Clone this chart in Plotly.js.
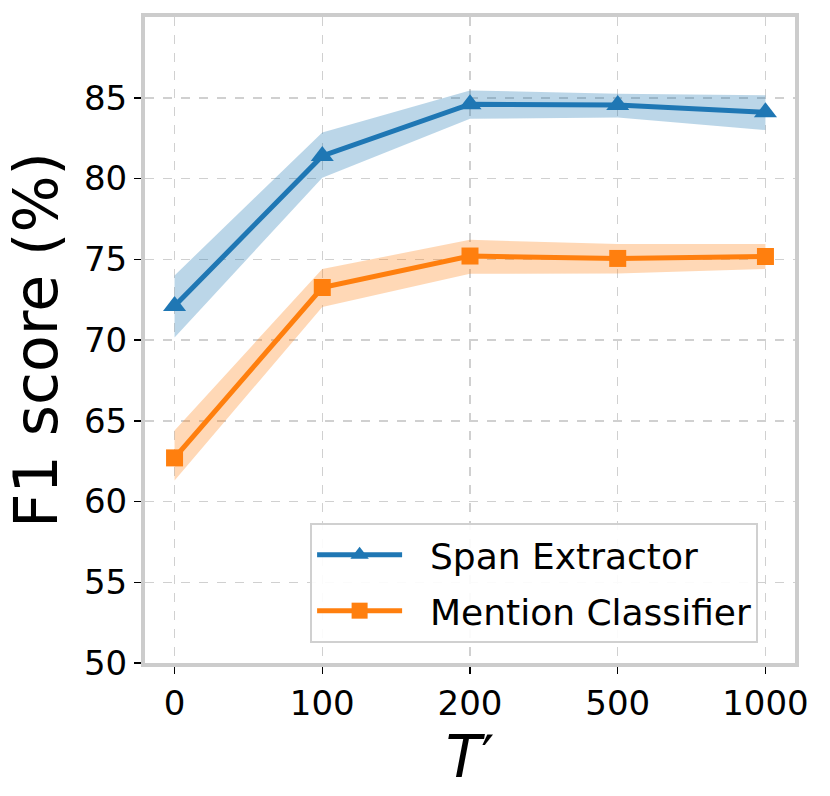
<!DOCTYPE html>
<html>
<head>
<meta charset="utf-8">
<script src="https://cdn.plot.ly/plotly-3.0.1.min.js"></script>
<style>html,body{margin:0;padding:0;background:#fff;}#chart{width:830px;height:796px;}</style>
</head>
<body>
<div id="chart"></div>
<script>
const categories = ["0", "100", "200", "500", "1000"];
const spanMean = [72.1, 81.4, 84.6, 84.55, 84.1];
const spanLow  = [70.15, 80.05, 83.7, 83.77, 83.0];
const spanHigh = [74.0, 82.85, 85.45, 85.25, 85.15];
const mentionMean = [62.7, 73.25, 75.2, 75.05, 75.17];
const mentionLow  = [61.3, 72.05, 74.1, 74.12, 74.4];
const mentionHigh = [64.4, 74.4, 76.2, 75.95, 75.95];
const yTicks = [50, 55, 60, 65, 70, 75, 80, 85];
const seriesNames = ["Span Extractor", "Mention Classifier"];

const blue = "#1f77b4", orange = "#ff7f0e";
const FONT = "DejaVu Sans, sans-serif";
const pad = "\u00a0\u00a0";

const traces = [
  {x: categories, y: spanLow, mode: "lines", line: {width: 0, color: blue}, showlegend: false, hoverinfo: "skip", legendgroup: "a"},
  {x: categories, y: spanHigh, mode: "lines", line: {width: 0, color: blue}, fill: "tonexty", fillcolor: "rgba(31,119,180,0.3)", showlegend: false, hoverinfo: "skip", legendgroup: "a"},
  {x: categories, y: mentionLow, mode: "lines", line: {width: 0, color: orange}, showlegend: false, hoverinfo: "skip", legendgroup: "b"},
  {x: categories, y: mentionHigh, mode: "lines", line: {width: 0, color: orange}, fill: "tonexty", fillcolor: "rgba(255,127,14,0.3)", showlegend: false, hoverinfo: "skip", legendgroup: "b"},
  {x: categories, y: spanMean, name: pad + seriesNames[0], legendgroup: "a", mode: "lines+markers", line: {width: 5, color: blue}, marker: {symbol: "triangle-up", size: 20, color: blue}},
  {x: categories, y: mentionMean, name: pad + seriesNames[1], legendgroup: "b", mode: "lines+markers", line: {width: 5, color: orange}, marker: {symbol: "square", size: 17, color: orange}}
];

const layout = {
  width: 830, height: 796,
  margin: {l: 145, r: 35, t: 17, b: 133},
  paper_bgcolor: "#fff", plot_bgcolor: "#fff",
  font: {family: FONT, color: "#000"},
  xaxis: {
    type: "category", range: [-0.2, 4.2],
    showgrid: true, gridcolor: "#d0d0d0", griddash: "dash", gridwidth: 1.5,
    ticks: "outside", ticklen: 7, tickwidth: 1.5, tickcolor: "#000",
    tickfont: {size: 34, family: FONT},
    showline: true, mirror: true, linecolor: "#cccccc", linewidth: 4,
    zeroline: false,
    title: {text: "<i>T</i>′", font: {size: 58, family: FONT}, standoff: 2}
  },
  yaxis: {
    range: [50, 90], tickvals: yTicks,
    showgrid: true, gridcolor: "#d0d0d0", griddash: "dash", gridwidth: 1.5,
    ticks: "outside", ticklen: 7, tickwidth: 1.5, tickcolor: "#000",
    tickfont: {size: 34, family: FONT},
    showline: true, mirror: true, linecolor: "#cccccc", linewidth: 4,
    zeroline: false,
    title: {text: "F1 score (%)", font: {size: 60, family: FONT}, standoff: 8}
  },
  legend: {
    x: 0.254, y: 0.031, xanchor: "left", yanchor: "bottom",
    traceorder: "grouped", tracegroupgap: 6,
    bgcolor: "rgba(255,255,255,0.9)", bordercolor: "#d0d0d0", borderwidth: 2,
    font: {size: 36, family: FONT}, itemwidth: 85
  }
};

Plotly.newPlot("chart", traces, layout, {displayModeBar: false, staticPlot: true});
</script>
</body>
</html>
